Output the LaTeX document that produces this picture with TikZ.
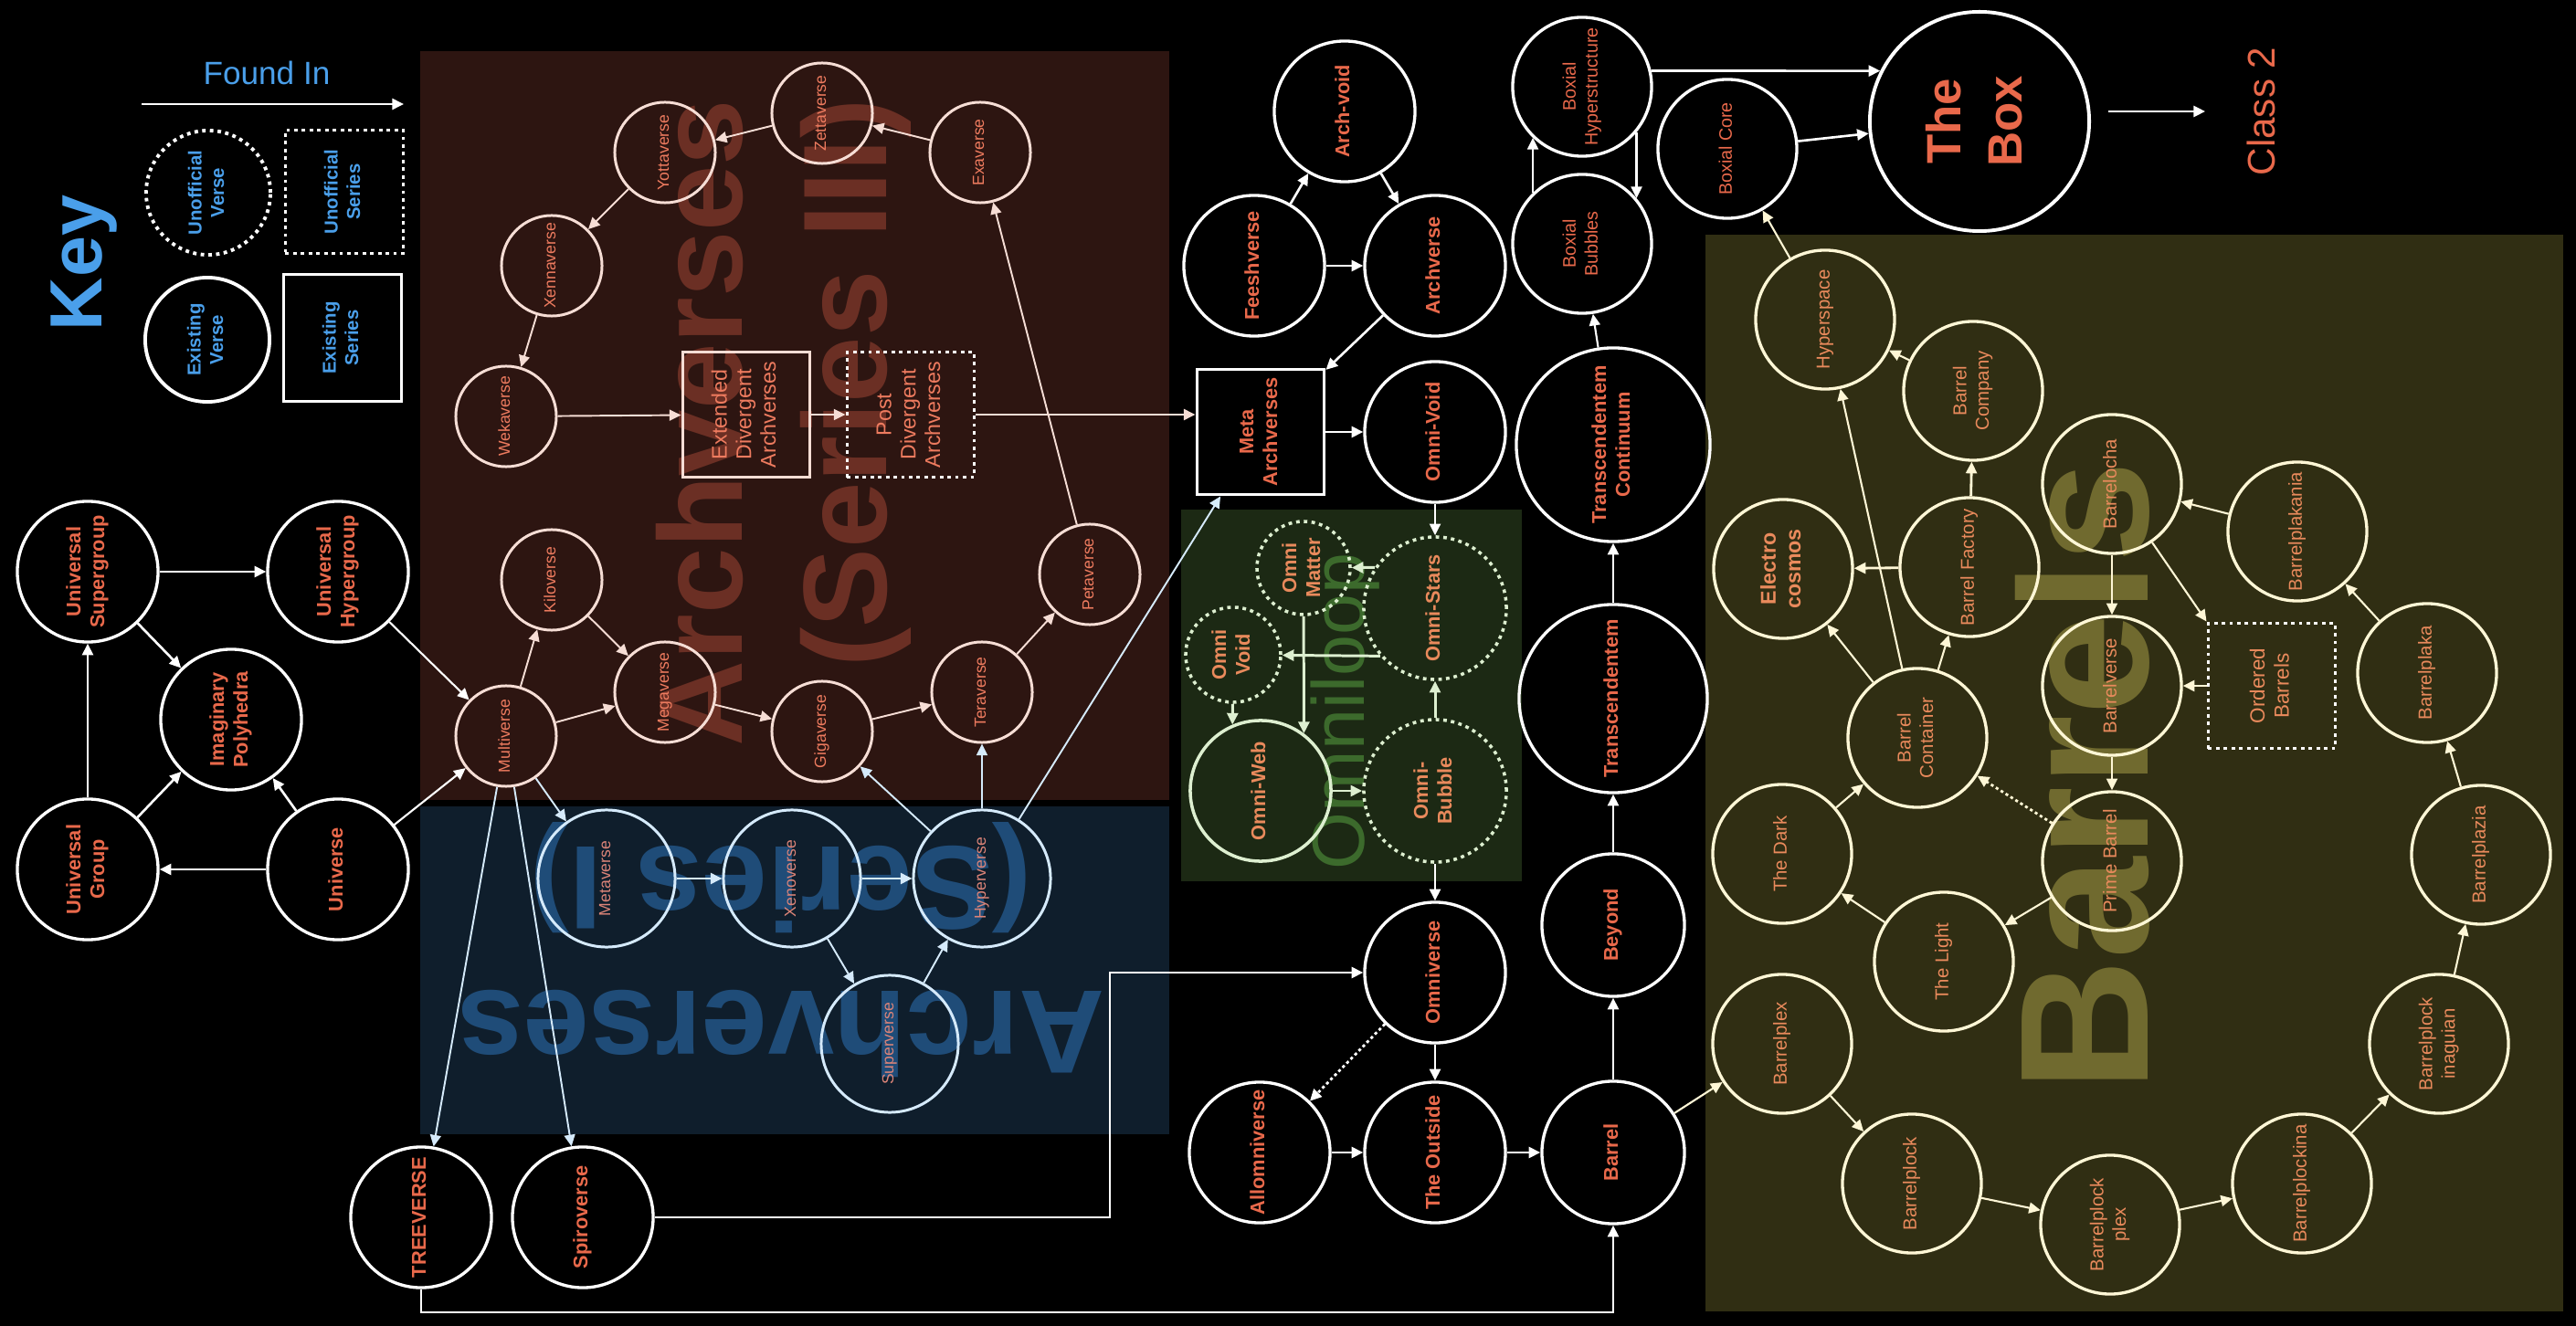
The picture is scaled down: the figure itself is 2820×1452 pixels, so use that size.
\documentclass[tikz,border=0pt]{standalone}
\usepackage{fontspec}
\setmainfont{Liberation Sans}
\usepackage{graphicx}
\usetikzlibrary{arrows.meta}

\definecolor{salmon}{HTML}{E9694B}
\definecolor{keyblue}{HTML}{4A9FEA}
\definecolor{orangetext}{HTML}{E98A5C}
\definecolor{archtext}{HTML}{EE7B5F}
\definecolor{archtexti}{HTML}{DC8478}
\definecolor{brownbg}{HTML}{2D1511}
\definecolor{bluebg}{HTML}{0F1E2C}
\definecolor{greenbg}{HTML}{1C2914}
\definecolor{olivebg}{HTML}{302E13}
\definecolor{brownmark}{HTML}{6B2F24}
\definecolor{bluemark}{HTML}{1F4C78}
\definecolor{greenmark}{HTML}{3C6A2C}
\definecolor{olivemark}{HTML}{706A2F}
\definecolor{pinkline}{HTML}{F6DDD5}
\definecolor{blueline}{HTML}{D5EAFB}
\definecolor{greenline}{HTML}{DDEFD0}
\definecolor{creamline}{HTML}{FFF7D6}

\newcommand{\vlab}[1]{\rotatebox{90}{\begin{tabular}{@{}c@{}}#1\end{tabular}}}

\tikzset{
  verse/.style={circle, draw=white, line width=0.95pt, inner sep=0pt, minimum size=1.54cm, text=salmon, font=\bfseries\fontsize{6.2}{7.4}\selectfont},
  series/.style={rectangle, draw=white, line width=1.1pt, inner sep=0pt, minimum width=1.39cm, minimum height=1.37cm, text=salmon, font=\bfseries\fontsize{6.2}{7.4}\selectfont},
  unofficial/.style={dash pattern=on 1.1pt off 1.3pt},
  archiii/.style={circle, draw=pinkline, line width=0.85pt, inner sep=0pt, minimum size=1.10cm, text=archtext, font=\fontsize{5}{6}\selectfont},
  archi/.style={circle, draw=blueline, line width=0.85pt, inner sep=0pt, minimum size=1.50cm, text=archtexti, font=\fontsize{5}{6}\selectfont},
  omni/.style={circle, draw=greenline, line width=1pt, inner sep=0pt, text=orangetext, font=\bfseries\fontsize{6.2}{7.4}\selectfont},
  boxial/.style={verse, font=\fontsize{5.6}{6.8}\selectfont},
  barrelv/.style={circle, draw=creamline, line width=0.95pt, inner sep=0pt, minimum size=1.52cm, text=orangetext, font=\fontsize{5.8}{7}\selectfont},
  keynode/.style={draw=white, line width=1.1pt, inner sep=0pt, text=keyblue, font=\bfseries\fontsize{5.8}{7}\selectfont},
  link/.style={->, draw=white, line width=0.75pt},
  linkiii/.style={->, draw=pinkline, line width=0.55pt},
  linki/.style={->, draw=blueline, line width=0.8pt},
  linko/.style={->, draw=greenline, line width=0.85pt},
  linkb/.style={->, draw=creamline, line width=0.6pt},
  maybe/.style={dash pattern=on 0.9pt off 0.9pt},
}

\begin{document}
\begin{tikzpicture}[x=0.01cm, y=-0.01cm, >={Triangle[length=3.6pt,width=3.4pt]}]
    \fill[black] (0,0) rectangle (2820,1452);
    \fill[brownbg] (460,56) rectangle (1280,876);
    \fill[bluebg] (460,883) rectangle (1280,1242);
    \fill[greenbg] (1293,558) rectangle (1666,965);
    \fill[olivebg] (1867,257) rectangle (2806,1436);

    \node[rotate=90, text=brownmark, align=right, font=\bfseries\fontsize{37}{45}\selectfont] (markiii) at (858,463) {Archverses\\(Series III)};
    \node[rotate=180, text=bluemark, align=center, font=\bfseries\fontsize{37}{45}\selectfont] (marki) at (855,1040) {Archverses\\(Series I)};
    \node[rotate=90, text=greenmark, font=\fontsize{23}{26}\selectfont] (markomni) at (1473,779) {Omniloop};
    \node[rotate=90, text=olivemark, font=\bfseries\fontsize{57}{60}\selectfont] (markbarrels) at (2280,850) {Barrels};

    % key
    \node[rotate=90, text=keyblue, font=\bfseries\fontsize{23}{26}\selectfont] (key) at (92,288) {Key};
    \node[text=keyblue, font=\fontsize{10}{12}\selectfont] (foundin) at (292,80) {Found In};
    \coordinate (foundA) at (155,114);
    \coordinate (foundB) at (442,114);
    \draw[link] (foundA) -- (foundB);
    \node[keynode, circle, unofficial, minimum size=1.36cm] (keyunverse) at (228,211) {\vlab{Unofficial\\Verse}};
    \node[keynode, unofficial, minimum width=1.29cm, minimum height=1.35cm] (keyunseries) at (377,210) {\vlab{Unofficial\\Series}};
    \node[keynode, circle, minimum size=1.36cm] (keyverse) at (227,372) {\vlab{Existing\\Verse}};
    \node[keynode, minimum width=1.29cm, minimum height=1.39cm] (keyseries) at (375,370) {\vlab{Existing\\Series}};

    % universes
    \node[verse] (usgroup) at (96,626) {\vlab{Universal\\Supergroup}};
    \node[verse] (uhgroup) at (370,626) {\vlab{Universal\\Hypergroup}};
    \node[verse] (impoly) at (253,788) {\vlab{Imaginary\\Polyhedra}};
    \node[verse] (ugroup) at (96,952) {\vlab{Universal\\Group}};
    \node[verse] (universe) at (370,952) {\vlab{Universe}};
    \node[verse] (treeverse) at (461,1333) {\vlab{TREEVERSE}};
    \node[verse] (spiroverse) at (638,1333) {\vlab{Spiroverse}};

    % archverses (series III)
    \node[archiii] (multiverse) at (554,806) {\vlab{Multiverse}};
    \node[archiii] (kiloverse) at (604,635) {\vlab{Kiloverse}};
    \node[archiii] (megaverse) at (728,758) {\vlab{Megaverse}};
    \node[archiii] (gigaverse) at (900,801) {\vlab{Gigaverse}};
    \node[archiii] (teraverse) at (1075,758) {\vlab{Teraverse}};
    \node[archiii] (petaverse) at (1193,629) {\vlab{Petaverse}};
    \node[archiii] (exaverse) at (1073,167) {\vlab{Exaverse}};
    \node[archiii] (zettaverse) at (900,124) {\vlab{Zettaverse}};
    \node[archiii] (yottaverse) at (728,167) {\vlab{Yottaverse}};
    \node[archiii] (xennaverse) at (604,291) {\vlab{Xennaverse}};
    \node[archiii] (wekaverse) at (554,456) {\vlab{Wekaverse}};
    \node[series, draw=pinkline, text=archtext, font=\fontsize{6.6}{7.6}\selectfont] (extended) at (817,454) {\vlab{Extended\\Divergent\\Archverses}};
    \node[series, unofficial, text=archtext, font=\fontsize{6.6}{7.6}\selectfont] (post) at (997,454) {\vlab{Post\\Divergent\\Archverses}};

    % archverses (series I)
    \node[archi] (metaverse) at (664,962) {\vlab{Metaverse}};
    \node[archi] (xenoverse) at (867,962) {\vlab{Xenoverse}};
    \node[archi] (hyperverse) at (1075,962) {\vlab{Hyperverse}};
    \node[archi] (superverse) at (974,1143) {\vlab{Superverse}};

    % arch / omni
    \node[verse] (archvoid) at (1472,122) {\vlab{Arch-void}};
    \node[verse] (feeshverse) at (1373,291) {\vlab{Feeshverse}};
    \node[verse] (archverse) at (1571,291) {\vlab{Archverse}};
    \node[series] (meta) at (1380,473) {\vlab{Meta\\Archverses}};
    \node[verse] (omnivoid) at (1571,473) {\vlab{Omni-Void}};
    \node[omni, unofficial, minimum size=1.02cm] (omatter) at (1427,622) {\vlab{Omni\\Matter}};
    \node[omni, unofficial, minimum size=1.04cm] (ovoid) at (1350,717) {\vlab{Omni\\Void}};
    \node[omni, unofficial, minimum size=1.56cm] (ostars) at (1571,666) {\vlab{Omni-Stars}};
    \node[omni, minimum size=1.54cm] (oweb) at (1380,866) {\vlab{Omni-Web}};
    \node[omni, unofficial, minimum size=1.56cm] (obubble) at (1571,866) {\vlab{Omni-\\Bubble}};
    \node[verse] (omniverse) at (1571,1065) {\vlab{Omniverse}};
    \node[verse] (allomniverse) at (1379,1262) {\vlab{Allomniverse}};
    \node[verse] (outside) at (1571,1262) {\vlab{The Outside}};

    % transcendent column
    \node[verse, minimum size=1.56cm] (barrel) at (1766,1262) {\vlab{Barrel}};
    \node[verse, minimum size=1.56cm] (beyond) at (1766,1013) {\vlab{Beyond}};
    \node[verse, minimum size=2.06cm] (transc) at (1766,765) {\vlab{Transcendentem}};
    \node[verse, minimum size=2.12cm] (continuum) at (1766,487) {\vlab{Transcendentem\\Continuum}};
    \node[boxial, minimum size=1.52cm] (bhyper) at (1732,95) {\vlab{Boxial\\Hyperstructure}};
    \node[boxial, minimum size=1.52cm] (bbubbles) at (1732,267) {\vlab{Boxial\\Bubbles}};
    \node[boxial, minimum size=1.52cm] (bcore) at (1891,163) {\vlab{Boxial Core}};
    \node[verse, line width=1.1pt, minimum size=2.40cm, font=\bfseries\fontsize{15}{19}\selectfont] (thebox) at (2167,133) {\vlab{The\\Box}};
    \node[rotate=90, text=salmon, font=\fontsize{12}{14}\selectfont] (class2) at (2475,122) {Class 2};

    % barrels
    \node[barrelv] (hyperspace) at (1998,350) {\vlab{Hyperspace}};
    \node[barrelv] (bcompany) at (2160,428) {\vlab{Barrel\\Company}};
    \node[barrelv, font=\bfseries\fontsize{6.6}{7.8}\selectfont] (electro) at (1952,623) {\vlab{Electro\\cosmos}};
    \node[barrelv] (bfactory) at (2156,621) {\vlab{Barrel Factory}};
    \node[barrelv] (barrelocha) at (2312,530) {\vlab{Barrelocha}};
    \node[barrelv] (bplakania) at (2515,582) {\vlab{Barrelplakania}};
    \node[barrelv] (barrelverse) at (2312,751) {\vlab{Barrelverse}};
    \node[series, unofficial, text=orangetext, font=\fontsize{6.4}{7.6}\selectfont] (ordered) at (2487,751) {\vlab{Ordered\\Barrels}};
    \node[barrelv] (bplaka) at (2657,737) {\vlab{Barrelplaka}};
    \node[barrelv] (bcontainer) at (2099,808) {\vlab{Barrel\\Container}};
    \node[barrelv] (thedark) at (1951,935) {\vlab{The Dark}};
    \node[barrelv] (primebarrel) at (2312,943) {\vlab{Prime Barrel}};
    \node[barrelv] (thelight) at (2128,1053) {\vlab{The Light}};
    \node[barrelv] (bplazia) at (2716,936) {\vlab{Barrelplazia}};
    \node[barrelv] (barrelplex) at (1951,1143) {\vlab{Barrelplex}};
    \node[barrelv] (barrelplock) at (2093,1296) {\vlab{Barrelplock}};
    \node[barrelv] (bplockplex) at (2310,1341) {\vlab{Barrelplock\\plex}};
    \node[barrelv] (bplockina) at (2520,1296) {\vlab{Barrelplockina}};
    \node[barrelv] (bplockinag) at (2670,1143) {\vlab{Barrelplock\\inaguian}};

    \coordinate (spirobend) at (1215,1065);
    \coordinate (treebend) at (1000,1437);

    \draw[link] (ugroup) -- (usgroup);
    \draw[link] (usgroup) -- (uhgroup);
    \draw[link] (usgroup) -- (impoly);
    \draw[link] (ugroup) -- (impoly);
    \draw[link] (universe) -- (impoly);
    \draw[link] (universe) -- (ugroup);
    \draw[link, line width=0.6pt] (uhgroup) -- (multiverse);
    \draw[link, line width=0.6pt] (universe) -- (multiverse);

    \draw[linkiii] (multiverse) -- (kiloverse);
    \draw[linkiii] (multiverse) -- (megaverse);
    \draw[linkiii] (kiloverse) -- (megaverse);
    \draw[linkiii] (megaverse) -- (gigaverse);
    \draw[linkiii] (gigaverse) -- (teraverse);
    \draw[linkiii] (teraverse) -- (petaverse);
    \draw[linkiii] (petaverse) -- (exaverse);
    \draw[linkiii] (exaverse) -- (zettaverse);
    \draw[linkiii] (zettaverse) -- (yottaverse);
    \draw[linkiii] (yottaverse) -- (xennaverse);
    \draw[linkiii] (xennaverse) -- (wekaverse);
    \draw[linkiii] (wekaverse) -- (extended);
    \draw[linkiii] (extended) -- (post);
    \draw[linkiii, line width=0.7pt] (post.east) -- (post.east -| meta.west);

    \draw[linki, line width=0.55pt] (multiverse) -- (metaverse);
    \draw[linki, line width=0.55pt] (multiverse) -- (treeverse);
    \draw[linki, line width=0.55pt] (multiverse) -- (spiroverse);
    \draw[linki] (metaverse) -- (xenoverse);
    \draw[linki] (xenoverse) -- (hyperverse);
    \draw[linki, line width=0.55pt] (xenoverse) -- (superverse);
    \draw[linki, line width=0.55pt] (superverse) -- (hyperverse);
    \draw[linki, line width=0.55pt] (hyperverse) -- (gigaverse);
    \draw[linki, line width=0.55pt] (hyperverse) -- (teraverse);
    \draw[linki, line width=0.55pt] (hyperverse) -- (meta);

    \draw[link] (feeshverse) -- (archvoid);
    \draw[link] (archvoid) -- (archverse);
    \draw[link] (feeshverse) -- (archverse);
    \draw[link] (archverse) -- (meta);
    \draw[link] (meta) -- (omnivoid);
    \draw[link] (omnivoid) -- (ostars);
    \draw[linko] (ostars.146) -- (omatter);
    \draw[linko] (ostars.221) -- (ovoid);
    \draw[linko] (omatter) -- (oweb.53);
    \draw[linko] (ovoid) -- (oweb.113);
    \draw[linko] (oweb) -- (obubble);
    \draw[linko] (obubble) -- (ostars);
    \draw[link] (obubble) -- (omniverse);
    \draw[link] (spiroverse.east) -| (spirobend) -- (omniverse);
    \draw[link] (omniverse) -- (outside);
    \draw[link, maybe, line width=0.8pt] (omniverse) -- (allomniverse);
    \draw[link] (allomniverse) -- (outside);
    \draw[link] (outside) -- (barrel);
    \draw[link] (treeverse.south) |- (treebend) -| (barrel.south);
    \draw[link] (barrel) -- (beyond);
    \draw[link] (beyond) -- (transc);
    \draw[link] (transc) -- (continuum);
    \draw[link, line width=0.6pt] (continuum) -- (bbubbles);
    \draw[link, line width=0.6pt] (bbubbles.134) -- (bhyper.226);
    \draw[link, line width=0.6pt] (bhyper.320) -- (bbubbles.40);
    \draw[link] (bhyper.13) -- (thebox.153);
    \draw[link] (bcore) -- (thebox);
    \draw[link, shorten <=1.9mm, shorten >=3.3mm] (thebox.east |- class2) -- (class2);
    \draw[linkb] (hyperspace) -- (bcore);

    \draw[linkb] (barrel) -- (barrelplex);
    \draw[linkb] (barrelplex) -- (barrelplock);
    \draw[linkb] (barrelplock) -- (bplockplex);
    \draw[linkb] (bplockplex) -- (bplockina);
    \draw[linkb] (bplockina) -- (bplockinag);
    \draw[linkb] (bplockinag) -- (bplazia);
    \draw[linkb] (bplazia) -- (bplaka);
    \draw[linkb] (bplaka) -- (bplakania);
    \draw[linkb] (bplakania) -- (barrelocha);
    \draw[linkb] (barrelocha) -- (barrelverse);
    \draw[linkb] (barrelocha) -- (ordered.north west);
    \draw[linkb, line width=0.8pt] (ordered) -- (barrelverse);
    \draw[linkb] (barrelverse) -- (primebarrel);
    \draw[linkb] (primebarrel) -- (thelight);
    \draw[linkb, maybe, line width=0.8pt] (primebarrel) -- (bcontainer);
    \draw[linkb] (thelight) -- (thedark);
    \draw[linkb] (thedark) -- (bcontainer);
    \draw[linkb] (bcontainer) -- (electro);
    \draw[linkb] (bcontainer) -- (bfactory);
    \draw[linkb] (bcontainer) -- (hyperspace);
    \draw[linkb, line width=0.8pt] (bfactory) -- (electro);
    \draw[linkb, line width=0.8pt] (bfactory) -- (bcompany);
    \draw[linkb] (bcompany) -- (hyperspace);
\end{tikzpicture}
\end{document}
